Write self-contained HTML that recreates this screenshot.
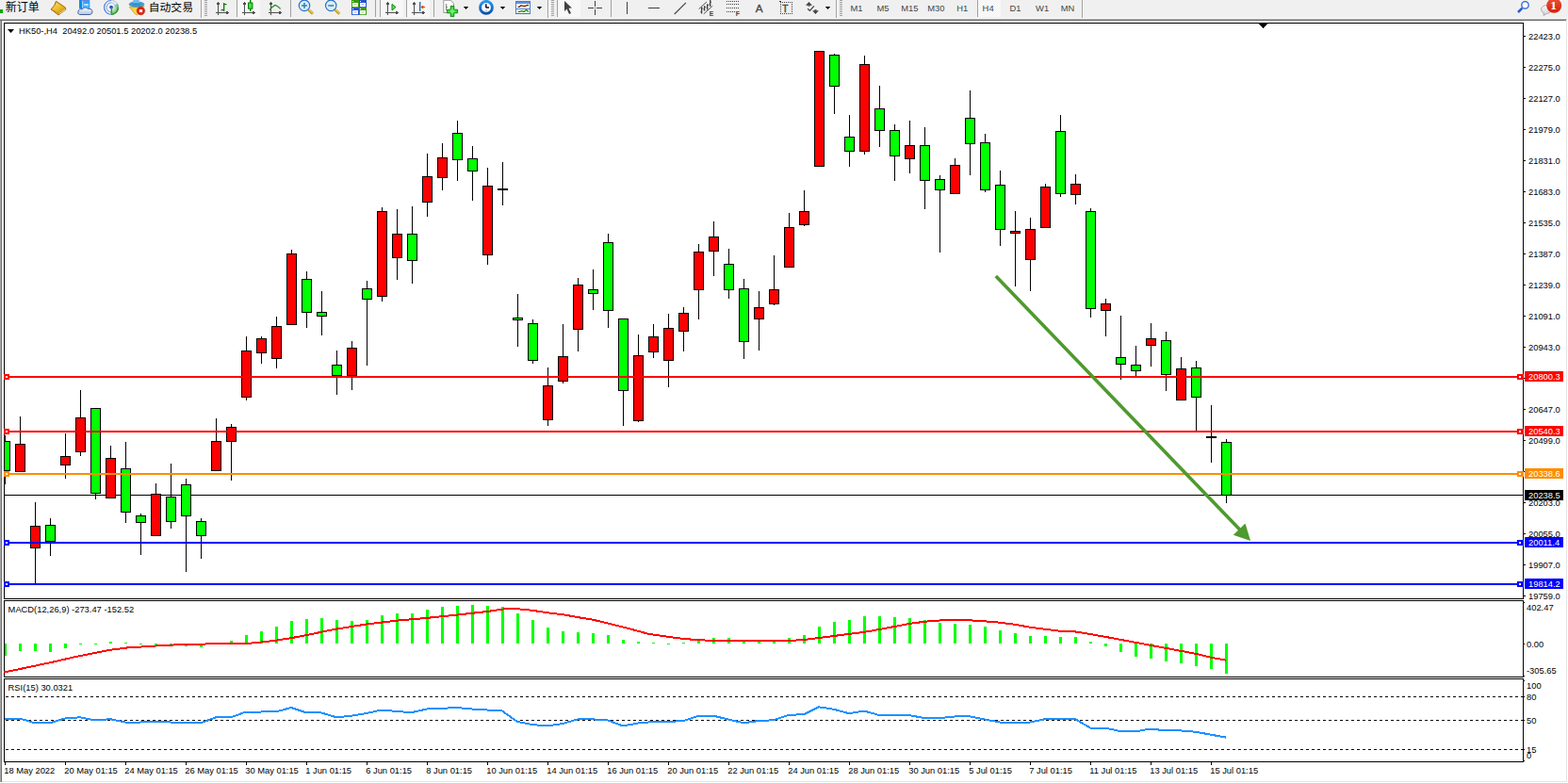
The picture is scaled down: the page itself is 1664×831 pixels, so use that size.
<!DOCTYPE html>
<html><head><meta charset="utf-8"><title>HK50-,H4</title>
<style>
html,body{margin:0;padding:0;background:#fff;}
body{width:1664px;height:831px;overflow:hidden;font-family:"Liberation Sans",sans-serif;}
svg{display:block;position:absolute;left:0;top:0;}
svg text{font-family:"Liberation Sans",sans-serif;}
</style></head><body>
<svg width="1664" height="831" viewBox="0 0 1664 831">
<defs><pattern id="chk" width="2" height="2" patternUnits="userSpaceOnUse"><rect width="2" height="2" fill="#f0f0f0"/><rect width="1" height="1" fill="#fff"/><rect x="1" y="1" width="1" height="1" fill="#fff"/></pattern><linearGradient id="gold" x1="0" y1="0" x2="1" y2="1"><stop offset="0" stop-color="#fbe36a"/><stop offset="0.6" stop-color="#e8b923"/><stop offset="1" stop-color="#c8901a"/></linearGradient><linearGradient id="clk" x1="0" y1="0" x2="0" y2="1"><stop offset="0" stop-color="#2b98f0"/><stop offset="1" stop-color="#0b50a8"/></linearGradient><radialGradient id="plus" cx="480" cy="12" r="6" gradientUnits="userSpaceOnUse"><stop offset="0" stop-color="#7dff7d"/><stop offset="1" stop-color="#18c018"/></radialGradient><linearGradient id="cloud" x1="0" y1="0" x2="0" y2="1"><stop offset="0" stop-color="#ffffff"/><stop offset="1" stop-color="#b4c2dc"/></linearGradient><linearGradient id="bub" x1="0" y1="0" x2="0" y2="1"><stop offset="0" stop-color="#fafafa"/><stop offset="1" stop-color="#d0d0dc"/></linearGradient><linearGradient id="yel" x1="0" y1="0" x2="1" y2="1"><stop offset="0" stop-color="#f2c62a"/><stop offset="1" stop-color="#fbe77a"/></linearGradient><radialGradient id="sgreen" cx="118" cy="7.8" r="8" gradientUnits="userSpaceOnUse"><stop offset="0" stop-color="#cfe8cf" stop-opacity="0.3"/><stop offset="0.6" stop-color="#8cc88c" stop-opacity="0.7"/><stop offset="1" stop-color="#3aa03a"/></radialGradient><linearGradient id="redg" x1="0" y1="0" x2="0" y2="1"><stop offset="0" stop-color="#e8553a"/><stop offset="1" stop-color="#d81e05"/></linearGradient></defs>
<g id="toolbar" shape-rendering="geometricPrecision">
<rect x="0" y="0" width="1664" height="19" fill="#f0f0f0"/><rect x="0" y="19" width="1664" height="1" fill="#f8f8f8"/><rect x="0" y="20" width="1663" height="1" fill="#b0b0b0"/><rect x="0" y="21" width="1662" height="1" fill="#696969"/><rect x="0" y="22" width="1" height="808" fill="#a8a8a8"/><rect x="1" y="22" width="1" height="808" fill="#707070"/><rect x="1662" y="22" width="1" height="808" fill="#e4e4e4"/><rect x="2" y="829" width="1661" height="1" fill="#e4e4e4"/><rect x="0" y="10" width="3" height="4" fill="#00a800"/><text x="5.65" y="11.5" font-size="12" fill="#000" style="font-family:&quot;Liberation Sans&quot;,&quot;Noto Sans CJK SC&quot;,sans-serif">新订单</text><text x="157.75" y="11.5" font-size="11.8" fill="#000" style="font-family:&quot;Liberation Sans&quot;,&quot;Noto Sans CJK SC&quot;,sans-serif">自动交易</text><polygon points="59.5,1.3 69.3,7.9 69.8,10.1 62.1,15.9 54.1,9.9 57.7,5.8" fill="#d9a21b" stroke="#a66a0a" stroke-width="1" stroke-linejoin="round"/><polygon points="60,2.4 68.5,8.2 62,13.2 55.3,9.4 58.4,5.9" fill="url(#gold)"/><path d="M63,14.7 L69.2,9.9" stroke="#e8dca8" stroke-width="1" fill="none"/><rect x="84" y="0" width="11.3" height="9" fill="#2aa6ff"/><rect x="84" y="0" width="3.4" height="9" fill="#0a8df0"/><rect x="87.4" y="0.8" width="0.8" height="8" fill="#e8f4ff"/><rect x="89.2" y="4.3" width="4.6" height="1.4" fill="#f4faff"/><rect x="89.2" y="6.8" width="4.6" height="0.7" fill="#bfe2ff"/><rect x="86" y="0" width="8" height="0.9" fill="#7b7bd0"/><path d="M84.5,15.5 H95.5 A3,3 0 0 0 97.7,11.4 A3,3 0 0 0 93.5,9.6 A3.6,3.6 0 0 0 87.2,10 A2.8,2.8 0 0 0 83,12.2 A2.3,2.3 0 0 0 84.5,15.5Z" fill="url(#cloud)" stroke="#3f5f9f" stroke-width="1"/><circle cx="118" cy="7.8" r="7.9" fill="#f4f6fb"/><path d="M118,7.8 L118,15.8 A8,8 0 0 0 124.9,3.8 Z" fill="url(#sgreen)"/><g fill="none"><circle cx="118" cy="7.8" r="7.4" stroke="#3b6ed6" stroke-opacity="0.6" stroke-width="1" stroke-dasharray="14 32.5" stroke-dashoffset="-14"/><path d="M118,0.4 A7.4,7.4 0 0 0 118,15.2" stroke="#3b6ed6" stroke-opacity="0.75" stroke-width="1.1"/><path d="M118,2.9 A4.9,4.9 0 0 0 118,12.7" stroke="#5b86de" stroke-opacity="0.7" stroke-width="1.1"/><path d="M118,2.9 A4.9,4.9 0 0 1 122.9,7.8" stroke="#8fb0d8" stroke-opacity="0.7" stroke-width="1.1"/><path d="M125.4,7.8 A7.4,7.4 0 0 0 118,0.4" stroke="#9bb8c8" stroke-opacity="0.7" stroke-width="1.1"/><path d="M118,15.3 A7.5,7.5 0 0 0 125.5,7.8" stroke="#2e9a2e" stroke-width="1.3"/></g><circle cx="118" cy="7.6" r="1.9" fill="#2255cc"/><rect x="117.6" y="8" width="1.5" height="7.8" fill="#1faa1f"/><polygon points="137.2,7.4 153,6.5 145.6,15.8 143.6,15.2" fill="url(#yel)" stroke="#d4a017" stroke-width="0.8" stroke-linejoin="round"/><ellipse cx="145" cy="4.6" rx="7.9" ry="2.7" fill="#3e9fdb" stroke="#2a86b8" stroke-width="0.7"/><ellipse cx="144.5" cy="2.1" rx="3.6" ry="2.8" fill="#6cbcee"/><ellipse cx="144.5" cy="4.4" rx="4.5" ry="1.2" fill="#2e8cc8"/><circle cx="149.4" cy="11.5" r="4.2" fill="#e8200a" stroke="#c01800" stroke-width="0.6"/><rect x="147.8" y="10.0" width="3.3" height="3.1" fill="#fff"/><rect x="213" y="0" width="1" height="19" fill="#a0a0a0"/><rect x="214" y="0" width="1" height="19" fill="#fff"/><rect x="217" y="0" width="3" height="1" fill="#a0a0a0"/><rect x="217" y="2" width="3" height="1" fill="#a0a0a0"/><rect x="217" y="4" width="3" height="1" fill="#a0a0a0"/><rect x="217" y="6" width="3" height="1" fill="#a0a0a0"/><rect x="217" y="8" width="3" height="1" fill="#a0a0a0"/><rect x="217" y="10" width="3" height="1" fill="#a0a0a0"/><rect x="217" y="12" width="3" height="1" fill="#a0a0a0"/><rect x="217" y="14" width="3" height="1" fill="#a0a0a0"/><rect x="217" y="16" width="3" height="1" fill="#a0a0a0"/><rect x="231" y="2" width="1" height="14" fill="#505050"/><rect x="230" y="3" width="3" height="2" fill="#505050"/><rect x="229" y="13" width="14" height="1" fill="#505050"/><rect x="240" y="12" width="2" height="3" fill="#505050"/><rect x="237" y="3" width="1.3" height="9" fill="#0a7a0a"/><rect x="237" y="4" width="3.5" height="1.2" fill="#0a7a0a"/><rect x="234.6" y="10" width="3" height="1.2" fill="#0a7a0a"/><rect x="251" y="0" width="1" height="18" fill="#a0a0a0"/><rect x="252" y="0" width="24" height="18" fill="url(#chk)"/><rect x="259" y="2" width="1" height="14" fill="#505050"/><rect x="258" y="3" width="3" height="2" fill="#505050"/><rect x="257" y="13" width="14" height="1" fill="#505050"/><rect x="268" y="12" width="2" height="3" fill="#505050"/><rect x="265" y="0" width="1.4" height="12" fill="#008000"/><rect x="263" y="2.5" width="5.4" height="7.2" fill="#008000"/><rect x="264" y="3.5" width="3.4" height="5.2" fill="#40e040"/><rect x="287" y="2" width="1" height="14" fill="#505050"/><rect x="286" y="3" width="3" height="2" fill="#505050"/><rect x="285" y="13" width="14" height="1" fill="#505050"/><rect x="296" y="12" width="2" height="3" fill="#505050"/><path d="M286,10.6 Q289,7 292,5.4 Q294.5,6.2 297.7,9.4" fill="none" stroke="#2e8b2e" stroke-width="1.3"/><rect x="308" y="0" width="1" height="18" fill="#a0a0a0"/><line x1="327" y1="10" x2="332" y2="14.7" stroke="#c9a227" stroke-width="3"/><line x1="327.3" y1="9.6" x2="332.3" y2="14.2" stroke="#f0d860" stroke-width="1"/><circle cx="323" cy="5.9" r="5.7" fill="#d8eefa" stroke="#2a6fc9" stroke-width="1.15"/><rect x="320" y="5.2" width="6" height="1.5" fill="#3a7ca8"/><rect x="322.25" y="2.9" width="1.5" height="6" fill="#3a7ca8"/><line x1="355.2" y1="10" x2="360.2" y2="14.7" stroke="#c9a227" stroke-width="3"/><line x1="355.5" y1="9.6" x2="360.5" y2="14.2" stroke="#f0d860" stroke-width="1"/><circle cx="351.2" cy="5.9" r="5.7" fill="#d8eefa" stroke="#2a6fc9" stroke-width="1.15"/><rect x="348.2" y="5.2" width="6" height="1.5" fill="#3a7ca8"/><rect x="373" y="0" width="8" height="8" fill="#3a9a10"/><rect x="374" y="3" width="6" height="4.2" fill="#fff"/><rect x="375.5" y="4.3" width="3" height="1" fill="#9ad080"/><rect x="374" y="1" width="1" height="1" fill="#fff"/><rect x="381" y="0" width="8" height="8" fill="#2255cc"/><rect x="382" y="3" width="6" height="4.2" fill="#fff"/><rect x="383.5" y="4.3" width="3" height="1" fill="#8aa8f0"/><rect x="382" y="1" width="1" height="1" fill="#fff"/><rect x="373" y="8" width="8" height="8" fill="#2255cc"/><rect x="374" y="11" width="6" height="4.2" fill="#fff"/><rect x="375.5" y="12.3" width="3" height="1" fill="#8aa8f0"/><rect x="374" y="9" width="1" height="1" fill="#fff"/><rect x="381" y="8" width="8" height="8" fill="#3a9a10"/><rect x="382" y="11" width="6" height="4.2" fill="#fff"/><rect x="383.5" y="12.3" width="3" height="1" fill="#9ad080"/><rect x="382" y="9" width="1" height="1" fill="#fff"/><rect x="398" y="0" width="1" height="18" fill="#a0a0a0"/><rect x="403" y="0" width="1" height="18" fill="#a0a0a0"/><rect x="404" y="0" width="24" height="18" fill="url(#chk)"/><rect x="411" y="2" width="1" height="14" fill="#505050"/><rect x="410" y="3" width="3" height="2" fill="#505050"/><rect x="409" y="13" width="14" height="1" fill="#505050"/><rect x="420" y="12" width="2" height="3" fill="#505050"/><polygon points="416,4.4 416,10.9 420,7.6" fill="#5ce05c" stroke="#0a8a0a" stroke-width="1"/><rect x="431" y="0" width="1" height="18" fill="#a0a0a0"/><rect x="432" y="0" width="24" height="18" fill="url(#chk)"/><rect x="439" y="2" width="1" height="14" fill="#505050"/><rect x="438" y="3" width="3" height="2" fill="#505050"/><rect x="437" y="13" width="14" height="1" fill="#505050"/><rect x="448" y="12" width="2" height="3" fill="#505050"/><rect x="445" y="2" width="1.4" height="10" fill="#1e6fb0"/><path d="M451,7.5 H447" stroke="#d9480f" stroke-width="1.2"/><polygon points="446.3,7.5 449.2,5.6 449.2,9.4" fill="#d9480f"/><rect x="460" y="0" width="1" height="18" fill="#a0a0a0"/><path d="M470.8,0.3 h7.5 l3.2,3.2 v10 h-10.7z" fill="#fdfdfd" stroke="#9a9a9a" stroke-width="1"/><path d="M473.5,4 v7 M473.5,7.5 h1.5" stroke="#666" stroke-width="0.8" fill="none"/><path d="M478.2,6.4 h3.6 v3.8 h3.8 v3.6 h-3.8 v3.8 h-3.6 v-3.8 h-3.8 v-3.6 h3.8z" fill="url(#plus)" stroke="#0a8a0a" stroke-width="0.9"/><polygon points="491.8,7 497.2,7 494.5,10.1" fill="#000"/><rect x="514.8" y="0" width="2.6" height="1.2" fill="#1a7ad8"/><circle cx="516" cy="7.9" r="6.4" fill="#fff" stroke="url(#clk)" stroke-width="2.9"/><g fill="#9a9a9a"><circle cx="516" cy="3.6" r="0.45"/><circle cx="520.3" cy="7.9" r="0.45"/><circle cx="511.7" cy="7.9" r="0.45"/><circle cx="513" cy="4.9" r="0.4"/><circle cx="519" cy="4.9" r="0.4"/><circle cx="513" cy="10.9" r="0.4"/><circle cx="519" cy="10.9" r="0.4"/></g><path d="M515.8,8 V4.3 M515.6,7.9 H519" stroke="#111" stroke-width="1.5" fill="none"/><rect x="515.2" y="10.6" width="1.6" height="0.8" fill="#4a90e2"/><polygon points="530.8,7 536.2,7 533.5,10.1" fill="#000"/><g shape-rendering="crispEdges"><rect x="547" y="1" width="16" height="14" fill="#4a7fcb"/><rect x="548" y="2" width="14" height="12" fill="#fff"/><rect x="548" y="2" width="14" height="2" fill="#5b93e0"/><rect x="548" y="9" width="14" height="1" fill="#4a7fcb"/><rect x="547" y="14" width="16" height="1" fill="#3f6fc0"/></g><polyline points="549.5,7.3 551.2,7.3 553,5.7 555,6.3 557,6.5 559,5.6 561,5.5" fill="none" stroke="#8b1a00" stroke-width="1.3"/><polyline points="550,12.6 552,12.2 554,11.7 556,12.5 558.5,10.6 561,12.6" fill="none" stroke="#0a8a0a" stroke-width="1.3"/><polygon points="569.8,7 575.2,7 572.5,10.1" fill="#000"/><rect x="581" y="0" width="1" height="19" fill="#a0a0a0"/><rect x="582" y="0" width="1" height="19" fill="#fff"/><rect x="585" y="0" width="3" height="1" fill="#a0a0a0"/><rect x="585" y="2" width="3" height="1" fill="#a0a0a0"/><rect x="585" y="4" width="3" height="1" fill="#a0a0a0"/><rect x="585" y="6" width="3" height="1" fill="#a0a0a0"/><rect x="585" y="8" width="3" height="1" fill="#a0a0a0"/><rect x="585" y="10" width="3" height="1" fill="#a0a0a0"/><rect x="585" y="12" width="3" height="1" fill="#a0a0a0"/><rect x="585" y="14" width="3" height="1" fill="#a0a0a0"/><rect x="585" y="16" width="3" height="1" fill="#a0a0a0"/><rect x="591" y="0" width="1" height="18" fill="#a0a0a0"/><rect x="592" y="0" width="24" height="18" fill="url(#chk)"/><polygon points="599,1 599,11.9 601.5,9.4 604,15 606,14 603.4,8.8 606.9,8.4" fill="#404040"/><rect x="631" y="1" width="1" height="6" fill="#404040"/><rect x="631" y="10" width="1" height="6" fill="#404040"/><rect x="624" y="8" width="6" height="1" fill="#404040"/><rect x="633" y="8" width="6" height="1" fill="#404040"/><rect x="631" y="8" width="1" height="1" fill="#404040"/><rect x="648" y="0" width="1" height="18" fill="#a0a0a0"/><rect x="665" y="2" width="1" height="13" fill="#404040"/><rect x="688" y="8" width="12" height="1" fill="#404040"/><line x1="715.7" y1="15" x2="727.9" y2="2.8" stroke="#404040" stroke-width="1.1"/><g stroke="#404040" fill="none"><path d="M741.6,9.6 L749.9,2 M746.8,14.8 L756.2,6.3" stroke-width="0.9"/><path d="M744.6,7.4 V14.4 M747.6,6.3 V11.5 M750.7,4.3 V10.5 M753.7,0 V6.9" stroke-width="1.3"/><path d="M743.4,12.8 h1.2 M744.6,8.8 h1.2 M746.4,9.8 h1.2 M747.6,7.4 h1.2 M749.5,8 h1.2 M750.7,5.5 h1.2 M752.5,4.6 h1.2 M753.7,2.2 h1.2" stroke-width="1"/></g><text x="752.7" y="16.9" font-size="6.8" font-weight="bold" fill="#404040">E</text><g shape-rendering="crispEdges"><rect x="771" y="1" width="1" height="1" fill="#404040"/><rect x="773" y="1" width="1" height="1" fill="#404040"/><rect x="775" y="1" width="1" height="1" fill="#404040"/><rect x="777" y="1" width="1" height="1" fill="#404040"/><rect x="779" y="1" width="1" height="1" fill="#404040"/><rect x="781" y="1" width="1" height="1" fill="#404040"/><rect x="783" y="1" width="1" height="1" fill="#404040"/><rect x="771" y="4" width="1" height="1" fill="#404040"/><rect x="773" y="4" width="1" height="1" fill="#404040"/><rect x="775" y="4" width="1" height="1" fill="#404040"/><rect x="777" y="4" width="1" height="1" fill="#404040"/><rect x="779" y="4" width="1" height="1" fill="#404040"/><rect x="781" y="4" width="1" height="1" fill="#404040"/><rect x="783" y="4" width="1" height="1" fill="#404040"/><rect x="771" y="8" width="1" height="1" fill="#404040"/><rect x="773" y="8" width="1" height="1" fill="#404040"/><rect x="775" y="8" width="1" height="1" fill="#404040"/><rect x="777" y="8" width="1" height="1" fill="#404040"/><rect x="779" y="8" width="1" height="1" fill="#404040"/><rect x="781" y="8" width="1" height="1" fill="#404040"/><rect x="783" y="8" width="1" height="1" fill="#404040"/><rect x="771" y="12" width="1" height="1" fill="#404040"/><rect x="773" y="12" width="1" height="1" fill="#404040"/><rect x="775" y="12" width="1" height="1" fill="#404040"/><rect x="777" y="12" width="1" height="1" fill="#404040"/><rect x="779" y="12" width="1" height="1" fill="#404040"/></g><text x="780.7" y="16.9" font-size="6.8" font-weight="bold" fill="#404040">F</text><text x="801.7" y="12.7" font-size="11.7" fill="#484848" stroke="#484848" stroke-width="0.35">A</text><g shape-rendering="crispEdges" fill="#404040"><rect x="828" y="2" width="1" height="1" fill="#404040"/><rect x="828" y="14" width="1" height="1" fill="#404040"/><rect x="830" y="2" width="1" height="1" fill="#404040"/><rect x="830" y="14" width="1" height="1" fill="#404040"/><rect x="832" y="2" width="1" height="1" fill="#404040"/><rect x="832" y="14" width="1" height="1" fill="#404040"/><rect x="834" y="2" width="1" height="1" fill="#404040"/><rect x="834" y="14" width="1" height="1" fill="#404040"/><rect x="836" y="2" width="1" height="1" fill="#404040"/><rect x="836" y="14" width="1" height="1" fill="#404040"/><rect x="838" y="2" width="1" height="1" fill="#404040"/><rect x="838" y="14" width="1" height="1" fill="#404040"/><rect x="840" y="2" width="1" height="1" fill="#404040"/><rect x="840" y="14" width="1" height="1" fill="#404040"/><rect x="828" y="2" width="1" height="1" fill="#404040"/><rect x="840" y="2" width="1" height="1" fill="#404040"/><rect x="828" y="4" width="1" height="1" fill="#404040"/><rect x="840" y="4" width="1" height="1" fill="#404040"/><rect x="828" y="6" width="1" height="1" fill="#404040"/><rect x="840" y="6" width="1" height="1" fill="#404040"/><rect x="828" y="8" width="1" height="1" fill="#404040"/><rect x="840" y="8" width="1" height="1" fill="#404040"/><rect x="828" y="10" width="1" height="1" fill="#404040"/><rect x="840" y="10" width="1" height="1" fill="#404040"/><rect x="828" y="12" width="1" height="1" fill="#404040"/><rect x="840" y="12" width="1" height="1" fill="#404040"/><rect x="828" y="14" width="1" height="1" fill="#404040"/><rect x="840" y="14" width="1" height="1" fill="#404040"/><rect x="827" y="1" width="2" height="1" fill="#404040"/></g><text x="830.2" y="12.6" font-size="10" fill="#484848" stroke="#484848" stroke-width="0.5">T</text><polygon points="858.4,1.9 862,5.7 855,5.7" fill="#404040"/><rect x="857.4" y="5.6" width="2.3" height="1" fill="#404040"/><path d="M857.1,9.3 L859.4,11.4 L863.9,6.4" fill="none" stroke="#404040" stroke-width="1.25"/><polygon points="862.1,11.2 868.9,11.2 865.4,15.1" fill="#404040"/><rect x="864.3" y="10.2" width="2.3" height="1.1" fill="#404040"/><polygon points="875.8,7 881.2,7 878.5,10.1" fill="#000"/><rect x="887" y="0" width="1" height="19" fill="#a0a0a0"/><rect x="888" y="0" width="1" height="19" fill="#fff"/><rect x="891" y="0" width="3" height="1" fill="#a0a0a0"/><rect x="891" y="2" width="3" height="1" fill="#a0a0a0"/><rect x="891" y="4" width="3" height="1" fill="#a0a0a0"/><rect x="891" y="6" width="3" height="1" fill="#a0a0a0"/><rect x="891" y="8" width="3" height="1" fill="#a0a0a0"/><rect x="891" y="10" width="3" height="1" fill="#a0a0a0"/><rect x="891" y="12" width="3" height="1" fill="#a0a0a0"/><rect x="891" y="14" width="3" height="1" fill="#a0a0a0"/><rect x="891" y="16" width="3" height="1" fill="#a0a0a0"/><rect x="1037" y="0" width="1" height="18" fill="#a0a0a0"/><rect x="1038" y="0" width="24" height="18" fill="url(#chk)"/><text transform="translate(909,12) scale(1,1.0)" font-size="9.4" fill="#454545" text-anchor="middle">M1</text><text transform="translate(937,12) scale(1,1.0)" font-size="9.4" fill="#454545" text-anchor="middle">M5</text><text transform="translate(965.4,12) scale(1,1.0)" font-size="9.4" fill="#454545" text-anchor="middle">M15</text><text transform="translate(993.3,12) scale(1,1.0)" font-size="9.4" fill="#454545" text-anchor="middle">M30</text><text transform="translate(1021.3,12) scale(1,1.0)" font-size="9.4" fill="#454545" text-anchor="middle">H1</text><text transform="translate(1048.6,12) scale(1,1.0)" font-size="9.4" fill="#454545" text-anchor="middle">H4</text><text transform="translate(1077.4,12) scale(1,1.0)" font-size="9.4" fill="#454545" text-anchor="middle">D1</text><text transform="translate(1106.1,12) scale(1,1.0)" font-size="9.4" fill="#454545" text-anchor="middle">W1</text><text transform="translate(1133,12) scale(1,1.0)" font-size="9.4" fill="#454545" text-anchor="middle">MN</text><rect x="1148" y="0" width="1" height="19" fill="#a0a0a0"/><rect x="1149" y="0" width="1" height="19" fill="#fff"/><line x1="1615.4" y1="8.6" x2="1611" y2="13" stroke="#2a5fd0" stroke-width="2.6"/><circle cx="1618.5" cy="5.4" r="3.7" fill="#fbfbff" stroke="#2a5fd0" stroke-width="1.3"/><path d="M1638,16.4 L1638.4,13.9 A5.4,4.4 0 1 1 1641.5,14.4 Z" fill="url(#bub)" stroke="#a4a4a8" stroke-width="0.9"/><circle cx="1649.2" cy="5.8" r="8" fill="url(#redg)"/><text x="1648.6" y="10.2" font-size="13.4" font-weight="bold" style="font-family:&quot;Liberation Serif&quot;,serif" fill="#fff" text-anchor="middle">1</text>
</g>
<g id="chart" shape-rendering="crispEdges">
<rect x="4" y="24" width="1613" height="1" fill="#000"/><rect x="4" y="24" width="1" height="612" fill="#000"/><rect x="1616" y="24" width="1" height="612" fill="#000"/><rect x="4" y="635" width="1613" height="1" fill="#000"/><rect x="4" y="637" width="1613" height="1" fill="#000"/><rect x="4" y="637" width="1" height="82" fill="#000"/><rect x="1616" y="637" width="1" height="82" fill="#000"/><rect x="4" y="718" width="1613" height="1" fill="#000"/><rect x="4" y="720" width="1613" height="1" fill="#000"/><rect x="4" y="720" width="1" height="89" fill="#000"/><rect x="1616" y="720" width="1" height="89" fill="#000"/><rect x="4" y="808" width="1613" height="1" fill="#000"/><rect x="1336" y="25" width="9" height="1" fill="#000"/><rect x="1337" y="26" width="7" height="1" fill="#000"/><rect x="1338" y="27" width="5" height="1" fill="#000"/><rect x="1339" y="28" width="3" height="1" fill="#000"/><rect x="1340" y="29" width="1" height="1" fill="#000"/><rect x="1617" y="38" width="2" height="1" fill="#000"/><rect x="1617" y="71" width="2" height="1" fill="#000"/><rect x="1617" y="104" width="2" height="1" fill="#000"/><rect x="1617" y="137" width="2" height="1" fill="#000"/><rect x="1617" y="170" width="2" height="1" fill="#000"/><rect x="1617" y="203" width="2" height="1" fill="#000"/><rect x="1617" y="236" width="2" height="1" fill="#000"/><rect x="1617" y="269" width="2" height="1" fill="#000"/><rect x="1617" y="302" width="2" height="1" fill="#000"/><rect x="1617" y="335" width="2" height="1" fill="#000"/><rect x="1617" y="368" width="2" height="1" fill="#000"/><rect x="1617" y="401" width="2" height="1" fill="#000"/><rect x="1617" y="434" width="2" height="1" fill="#000"/><rect x="1617" y="467" width="2" height="1" fill="#000"/><rect x="1617" y="500" width="2" height="1" fill="#000"/><rect x="1617" y="533" width="2" height="1" fill="#000"/><rect x="1617" y="566" width="2" height="1" fill="#000"/><rect x="1617" y="599" width="2" height="1" fill="#000"/><rect x="1617" y="632" width="2" height="1" fill="#000"/><rect x="1617" y="639" width="1" height="1" fill="#000"/><rect x="1617" y="683" width="1" height="1" fill="#000"/><rect x="1617" y="717" width="1" height="1" fill="#000"/><rect x="1617" y="722" width="1" height="1" fill="#000"/><rect x="1617" y="739" width="1" height="1" fill="#000"/><rect x="1617" y="764" width="1" height="1" fill="#000"/><rect x="1617" y="795" width="1" height="1" fill="#000"/><rect x="1617" y="807" width="1" height="1" fill="#000"/><rect x="5" y="809" width="1" height="3" fill="#000"/><rect x="69" y="809" width="1" height="3" fill="#000"/><rect x="133" y="809" width="1" height="3" fill="#000"/><rect x="197" y="809" width="1" height="3" fill="#000"/><rect x="261" y="809" width="1" height="3" fill="#000"/><rect x="325" y="809" width="1" height="3" fill="#000"/><rect x="389" y="809" width="1" height="3" fill="#000"/><rect x="453" y="809" width="1" height="3" fill="#000"/><rect x="517" y="809" width="1" height="3" fill="#000"/><rect x="581" y="809" width="1" height="3" fill="#000"/><rect x="645" y="809" width="1" height="3" fill="#000"/><rect x="709" y="809" width="1" height="3" fill="#000"/><rect x="773" y="809" width="1" height="3" fill="#000"/><rect x="837" y="809" width="1" height="3" fill="#000"/><rect x="901" y="809" width="1" height="3" fill="#000"/><rect x="965" y="809" width="1" height="3" fill="#000"/><rect x="1029" y="809" width="1" height="3" fill="#000"/><rect x="1093" y="809" width="1" height="3" fill="#000"/><rect x="1157" y="809" width="1" height="3" fill="#000"/><rect x="1221" y="809" width="1" height="3" fill="#000"/><rect x="1285" y="809" width="1" height="3" fill="#000"/><rect x="5" y="525" width="1611" height="1" fill="#000"/><rect x="5" y="462" width="1" height="52" fill="#000"/><rect x="5" y="468" width="6" height="32" fill="#000"/><rect x="5" y="469" width="5" height="30" fill="#00ff00"/><rect x="21" y="442" width="1" height="59" fill="#000"/><rect x="16" y="471" width="11" height="30" fill="#000"/><rect x="17" y="472" width="9" height="28" fill="#ff0000"/><rect x="37" y="533" width="1" height="86" fill="#000"/><rect x="32" y="558" width="11" height="24" fill="#000"/><rect x="33" y="559" width="9" height="22" fill="#ff0000"/><rect x="53" y="550" width="1" height="40" fill="#000"/><rect x="48" y="557" width="11" height="18" fill="#000"/><rect x="49" y="558" width="9" height="16" fill="#00ff00"/><rect x="69" y="460" width="1" height="48" fill="#000"/><rect x="64" y="484" width="11" height="10" fill="#000"/><rect x="65" y="485" width="9" height="8" fill="#ff0000"/><rect x="85" y="414" width="1" height="70" fill="#000"/><rect x="80" y="443" width="11" height="37" fill="#000"/><rect x="81" y="444" width="9" height="35" fill="#ff0000"/><rect x="101" y="433" width="1" height="97" fill="#000"/><rect x="96" y="433" width="11" height="91" fill="#000"/><rect x="97" y="434" width="9" height="89" fill="#00ff00"/><rect x="117" y="473" width="1" height="56" fill="#000"/><rect x="112" y="486" width="11" height="43" fill="#000"/><rect x="113" y="487" width="9" height="41" fill="#ff0000"/><rect x="133" y="469" width="1" height="86" fill="#000"/><rect x="128" y="497" width="11" height="47" fill="#000"/><rect x="129" y="498" width="9" height="45" fill="#00ff00"/><rect x="149" y="545" width="1" height="44" fill="#000"/><rect x="144" y="547" width="11" height="8" fill="#000"/><rect x="145" y="548" width="9" height="6" fill="#00ff00"/><rect x="165" y="513" width="1" height="56" fill="#000"/><rect x="160" y="524" width="11" height="45" fill="#000"/><rect x="161" y="525" width="9" height="43" fill="#ff0000"/><rect x="181" y="492" width="1" height="69" fill="#000"/><rect x="176" y="527" width="11" height="27" fill="#000"/><rect x="177" y="528" width="9" height="25" fill="#00ff00"/><rect x="197" y="508" width="1" height="99" fill="#000"/><rect x="192" y="514" width="11" height="34" fill="#000"/><rect x="193" y="515" width="9" height="32" fill="#00ff00"/><rect x="213" y="550" width="1" height="43" fill="#000"/><rect x="208" y="553" width="11" height="16" fill="#000"/><rect x="209" y="554" width="9" height="14" fill="#00ff00"/><rect x="229" y="444" width="1" height="56" fill="#000"/><rect x="224" y="468" width="11" height="32" fill="#000"/><rect x="225" y="469" width="9" height="30" fill="#ff0000"/><rect x="245" y="450" width="1" height="60" fill="#000"/><rect x="240" y="453" width="11" height="16" fill="#000"/><rect x="241" y="454" width="9" height="14" fill="#ff0000"/><rect x="261" y="357" width="1" height="68" fill="#000"/><rect x="256" y="372" width="11" height="50" fill="#000"/><rect x="257" y="373" width="9" height="48" fill="#ff0000"/><rect x="277" y="357" width="1" height="29" fill="#000"/><rect x="272" y="359" width="11" height="16" fill="#000"/><rect x="273" y="360" width="9" height="14" fill="#ff0000"/><rect x="293" y="336" width="1" height="55" fill="#000"/><rect x="288" y="346" width="11" height="35" fill="#000"/><rect x="289" y="347" width="9" height="33" fill="#ff0000"/><rect x="309" y="265" width="1" height="80" fill="#000"/><rect x="304" y="269" width="11" height="76" fill="#000"/><rect x="305" y="270" width="9" height="74" fill="#ff0000"/><rect x="325" y="288" width="1" height="60" fill="#000"/><rect x="320" y="296" width="11" height="36" fill="#000"/><rect x="321" y="297" width="9" height="34" fill="#00ff00"/><rect x="341" y="309" width="1" height="47" fill="#000"/><rect x="336" y="331" width="11" height="5" fill="#000"/><rect x="337" y="332" width="9" height="3" fill="#00ff00"/><rect x="357" y="372" width="1" height="47" fill="#000"/><rect x="352" y="387" width="11" height="12" fill="#000"/><rect x="353" y="388" width="9" height="10" fill="#00ff00"/><rect x="373" y="362" width="1" height="52" fill="#000"/><rect x="368" y="369" width="11" height="30" fill="#000"/><rect x="369" y="370" width="9" height="28" fill="#ff0000"/><rect x="389" y="298" width="1" height="90" fill="#000"/><rect x="384" y="306" width="11" height="12" fill="#000"/><rect x="385" y="307" width="9" height="10" fill="#00ff00"/><rect x="405" y="220" width="1" height="100" fill="#000"/><rect x="400" y="224" width="11" height="91" fill="#000"/><rect x="401" y="225" width="9" height="89" fill="#ff0000"/><rect x="421" y="222" width="1" height="75" fill="#000"/><rect x="416" y="248" width="11" height="26" fill="#000"/><rect x="417" y="249" width="9" height="24" fill="#ff0000"/><rect x="437" y="219" width="1" height="82" fill="#000"/><rect x="432" y="248" width="11" height="29" fill="#000"/><rect x="433" y="249" width="9" height="27" fill="#00ff00"/><rect x="453" y="163" width="1" height="67" fill="#000"/><rect x="448" y="187" width="11" height="28" fill="#000"/><rect x="449" y="188" width="9" height="26" fill="#ff0000"/><rect x="469" y="152" width="1" height="50" fill="#000"/><rect x="464" y="167" width="11" height="22" fill="#000"/><rect x="465" y="168" width="9" height="20" fill="#ff0000"/><rect x="485" y="128" width="1" height="64" fill="#000"/><rect x="480" y="141" width="11" height="29" fill="#000"/><rect x="481" y="142" width="9" height="27" fill="#00ff00"/><rect x="501" y="155" width="1" height="58" fill="#000"/><rect x="496" y="168" width="11" height="14" fill="#000"/><rect x="497" y="169" width="9" height="12" fill="#00ff00"/><rect x="517" y="178" width="1" height="103" fill="#000"/><rect x="512" y="197" width="11" height="74" fill="#000"/><rect x="513" y="198" width="9" height="72" fill="#ff0000"/><rect x="533" y="172" width="1" height="46" fill="#000"/><rect x="528" y="200" width="11" height="2" fill="#000"/><rect x="549" y="312" width="1" height="56" fill="#000"/><rect x="544" y="337" width="11" height="3" fill="#000"/><rect x="545" y="338" width="9" height="1" fill="#00ff00"/><rect x="565" y="339" width="1" height="47" fill="#000"/><rect x="560" y="343" width="11" height="40" fill="#000"/><rect x="561" y="344" width="9" height="38" fill="#00ff00"/><rect x="581" y="390" width="1" height="62" fill="#000"/><rect x="576" y="409" width="11" height="37" fill="#000"/><rect x="577" y="410" width="9" height="35" fill="#ff0000"/><rect x="597" y="344" width="1" height="63" fill="#000"/><rect x="592" y="378" width="11" height="27" fill="#000"/><rect x="593" y="379" width="9" height="25" fill="#ff0000"/><rect x="613" y="295" width="1" height="78" fill="#000"/><rect x="608" y="302" width="11" height="48" fill="#000"/><rect x="609" y="303" width="9" height="46" fill="#ff0000"/><rect x="629" y="286" width="1" height="43" fill="#000"/><rect x="624" y="307" width="11" height="5" fill="#000"/><rect x="625" y="308" width="9" height="3" fill="#00ff00"/><rect x="645" y="248" width="1" height="100" fill="#000"/><rect x="640" y="257" width="11" height="73" fill="#000"/><rect x="641" y="258" width="9" height="71" fill="#00ff00"/><rect x="661" y="338" width="1" height="114" fill="#000"/><rect x="656" y="338" width="11" height="77" fill="#000"/><rect x="657" y="339" width="9" height="75" fill="#00ff00"/><rect x="677" y="355" width="1" height="93" fill="#000"/><rect x="672" y="377" width="11" height="70" fill="#000"/><rect x="673" y="378" width="9" height="68" fill="#ff0000"/><rect x="693" y="344" width="1" height="36" fill="#000"/><rect x="688" y="357" width="11" height="17" fill="#000"/><rect x="689" y="358" width="9" height="15" fill="#ff0000"/><rect x="709" y="333" width="1" height="78" fill="#000"/><rect x="704" y="348" width="11" height="35" fill="#000"/><rect x="705" y="349" width="9" height="33" fill="#ff0000"/><rect x="725" y="326" width="1" height="47" fill="#000"/><rect x="720" y="332" width="11" height="20" fill="#000"/><rect x="721" y="333" width="9" height="18" fill="#ff0000"/><rect x="741" y="259" width="1" height="80" fill="#000"/><rect x="736" y="267" width="11" height="41" fill="#000"/><rect x="737" y="268" width="9" height="39" fill="#ff0000"/><rect x="757" y="235" width="1" height="58" fill="#000"/><rect x="752" y="251" width="11" height="16" fill="#000"/><rect x="753" y="252" width="9" height="14" fill="#ff0000"/><rect x="773" y="264" width="1" height="53" fill="#000"/><rect x="768" y="280" width="11" height="28" fill="#000"/><rect x="769" y="281" width="9" height="26" fill="#00ff00"/><rect x="789" y="296" width="1" height="85" fill="#000"/><rect x="784" y="306" width="11" height="57" fill="#000"/><rect x="785" y="307" width="9" height="55" fill="#00ff00"/><rect x="805" y="309" width="1" height="63" fill="#000"/><rect x="800" y="326" width="11" height="13" fill="#000"/><rect x="801" y="327" width="9" height="11" fill="#ff0000"/><rect x="821" y="271" width="1" height="53" fill="#000"/><rect x="816" y="307" width="11" height="16" fill="#000"/><rect x="817" y="308" width="9" height="14" fill="#ff0000"/><rect x="837" y="226" width="1" height="58" fill="#000"/><rect x="832" y="241" width="11" height="43" fill="#000"/><rect x="833" y="242" width="9" height="41" fill="#ff0000"/><rect x="853" y="202" width="1" height="38" fill="#000"/><rect x="848" y="224" width="11" height="15" fill="#000"/><rect x="849" y="225" width="9" height="13" fill="#ff0000"/><rect x="869" y="54" width="1" height="123" fill="#000"/><rect x="864" y="54" width="11" height="123" fill="#000"/><rect x="865" y="55" width="9" height="121" fill="#ff0000"/><rect x="885" y="57" width="1" height="64" fill="#000"/><rect x="880" y="58" width="11" height="34" fill="#000"/><rect x="881" y="59" width="9" height="32" fill="#00ff00"/><rect x="901" y="122" width="1" height="55" fill="#000"/><rect x="896" y="145" width="11" height="16" fill="#000"/><rect x="897" y="146" width="9" height="14" fill="#00ff00"/><rect x="917" y="59" width="1" height="105" fill="#000"/><rect x="912" y="68" width="11" height="93" fill="#000"/><rect x="913" y="69" width="9" height="91" fill="#ff0000"/><rect x="933" y="91" width="1" height="65" fill="#000"/><rect x="928" y="115" width="11" height="24" fill="#000"/><rect x="929" y="116" width="9" height="22" fill="#00ff00"/><rect x="949" y="132" width="1" height="60" fill="#000"/><rect x="944" y="138" width="11" height="28" fill="#000"/><rect x="945" y="139" width="9" height="26" fill="#00ff00"/><rect x="965" y="128" width="1" height="56" fill="#000"/><rect x="960" y="154" width="11" height="15" fill="#000"/><rect x="961" y="155" width="9" height="13" fill="#ff0000"/><rect x="981" y="135" width="1" height="87" fill="#000"/><rect x="976" y="154" width="11" height="38" fill="#000"/><rect x="977" y="155" width="9" height="36" fill="#00ff00"/><rect x="997" y="186" width="1" height="82" fill="#000"/><rect x="992" y="190" width="11" height="12" fill="#000"/><rect x="993" y="191" width="9" height="10" fill="#00ff00"/><rect x="1013" y="168" width="1" height="38" fill="#000"/><rect x="1008" y="175" width="11" height="31" fill="#000"/><rect x="1009" y="176" width="9" height="29" fill="#ff0000"/><rect x="1029" y="96" width="1" height="90" fill="#000"/><rect x="1024" y="125" width="11" height="28" fill="#000"/><rect x="1025" y="126" width="9" height="26" fill="#00ff00"/><rect x="1045" y="142" width="1" height="62" fill="#000"/><rect x="1040" y="151" width="11" height="51" fill="#000"/><rect x="1041" y="152" width="9" height="49" fill="#00ff00"/><rect x="1061" y="181" width="1" height="80" fill="#000"/><rect x="1056" y="196" width="11" height="48" fill="#000"/><rect x="1057" y="197" width="9" height="46" fill="#00ff00"/><rect x="1077" y="224" width="1" height="80" fill="#000"/><rect x="1072" y="245" width="11" height="3" fill="#000"/><rect x="1073" y="246" width="9" height="1" fill="#ff0000"/><rect x="1093" y="231" width="1" height="78" fill="#000"/><rect x="1088" y="243" width="11" height="33" fill="#000"/><rect x="1089" y="244" width="9" height="31" fill="#ff0000"/><rect x="1109" y="195" width="1" height="47" fill="#000"/><rect x="1104" y="198" width="11" height="44" fill="#000"/><rect x="1105" y="199" width="9" height="42" fill="#ff0000"/><rect x="1125" y="122" width="1" height="87" fill="#000"/><rect x="1120" y="139" width="11" height="67" fill="#000"/><rect x="1121" y="140" width="9" height="65" fill="#00ff00"/><rect x="1141" y="185" width="1" height="32" fill="#000"/><rect x="1136" y="195" width="11" height="12" fill="#000"/><rect x="1137" y="196" width="9" height="10" fill="#ff0000"/><rect x="1157" y="221" width="1" height="116" fill="#000"/><rect x="1152" y="224" width="11" height="104" fill="#000"/><rect x="1153" y="225" width="9" height="102" fill="#00ff00"/><rect x="1173" y="317" width="1" height="40" fill="#000"/><rect x="1168" y="322" width="11" height="8" fill="#000"/><rect x="1169" y="323" width="9" height="6" fill="#ff0000"/><rect x="1189" y="335" width="1" height="68" fill="#000"/><rect x="1184" y="379" width="11" height="8" fill="#000"/><rect x="1185" y="380" width="9" height="6" fill="#00ff00"/><rect x="1205" y="367" width="1" height="32" fill="#000"/><rect x="1200" y="387" width="11" height="7" fill="#000"/><rect x="1201" y="388" width="9" height="5" fill="#00ff00"/><rect x="1221" y="343" width="1" height="46" fill="#000"/><rect x="1216" y="359" width="11" height="8" fill="#000"/><rect x="1217" y="360" width="9" height="6" fill="#ff0000"/><rect x="1237" y="352" width="1" height="63" fill="#000"/><rect x="1232" y="361" width="11" height="37" fill="#000"/><rect x="1233" y="362" width="9" height="35" fill="#00ff00"/><rect x="1253" y="379" width="1" height="46" fill="#000"/><rect x="1248" y="391" width="11" height="34" fill="#000"/><rect x="1249" y="392" width="9" height="32" fill="#ff0000"/><rect x="1269" y="383" width="1" height="74" fill="#000"/><rect x="1264" y="390" width="11" height="32" fill="#000"/><rect x="1265" y="391" width="9" height="30" fill="#00ff00"/><rect x="1285" y="430" width="1" height="61" fill="#000"/><rect x="1280" y="463" width="11" height="2" fill="#000"/><rect x="1301" y="466" width="1" height="68" fill="#000"/><rect x="1296" y="469" width="11" height="57" fill="#000"/><rect x="1297" y="470" width="9" height="55" fill="#00ff00"/><rect x="5" y="399" width="1611" height="2" fill="#ff0000"/><rect x="4" y="397" width="6" height="6" fill="#ff0000"/><rect x="6" y="399" width="2" height="2" fill="#fff"/><rect x="1610" y="397" width="7" height="6" fill="#ff0000"/><rect x="1612" y="399" width="2" height="2" fill="#fff"/><rect x="5" y="457" width="1611" height="2" fill="#ff0000"/><rect x="4" y="455" width="6" height="6" fill="#ff0000"/><rect x="6" y="457" width="2" height="2" fill="#fff"/><rect x="1610" y="455" width="7" height="6" fill="#ff0000"/><rect x="1612" y="457" width="2" height="2" fill="#fff"/><rect x="5" y="502" width="1611" height="2" fill="#ff8c00"/><rect x="4" y="500" width="6" height="6" fill="#ff8c00"/><rect x="6" y="502" width="2" height="2" fill="#fff"/><rect x="1610" y="500" width="7" height="6" fill="#ff8c00"/><rect x="1612" y="502" width="2" height="2" fill="#fff"/><rect x="5" y="575" width="1611" height="2" fill="#0000ff"/><rect x="4" y="573" width="6" height="6" fill="#0000ff"/><rect x="6" y="575" width="2" height="2" fill="#fff"/><rect x="1610" y="573" width="7" height="6" fill="#0000ff"/><rect x="1612" y="575" width="2" height="2" fill="#fff"/><rect x="5" y="619" width="1611" height="2" fill="#0000ff"/><rect x="4" y="617" width="6" height="6" fill="#0000ff"/><rect x="6" y="619" width="2" height="2" fill="#fff"/><rect x="1610" y="617" width="7" height="6" fill="#0000ff"/><rect x="1612" y="619" width="2" height="2" fill="#fff"/><rect x="5" y="683" width="2" height="13" fill="#00ff00"/><rect x="20" y="683" width="3" height="8" fill="#00ff00"/><rect x="36" y="683" width="3" height="8" fill="#00ff00"/><rect x="52" y="683" width="3" height="9" fill="#00ff00"/><rect x="68" y="683" width="3" height="5" fill="#00ff00"/><rect x="84" y="683" width="3" height="1" fill="#00ff00"/><rect x="100" y="683" width="3" height="1" fill="#00ff00"/><rect x="116" y="681" width="3" height="2" fill="#00ff00"/><rect x="132" y="682" width="3" height="1" fill="#00ff00"/><rect x="148" y="683" width="3" height="1" fill="#00ff00"/><rect x="164" y="683" width="3" height="2" fill="#00ff00"/><rect x="180" y="683" width="3" height="1" fill="#00ff00"/><rect x="196" y="683" width="3" height="3" fill="#00ff00"/><rect x="212" y="683" width="3" height="4" fill="#00ff00"/><rect x="244" y="680" width="3" height="3" fill="#00ff00"/><rect x="260" y="674" width="3" height="9" fill="#00ff00"/><rect x="276" y="670" width="3" height="13" fill="#00ff00"/><rect x="292" y="665" width="3" height="18" fill="#00ff00"/><rect x="308" y="659" width="3" height="24" fill="#00ff00"/><rect x="324" y="657" width="3" height="26" fill="#00ff00"/><rect x="340" y="656" width="3" height="27" fill="#00ff00"/><rect x="356" y="658" width="3" height="25" fill="#00ff00"/><rect x="372" y="659" width="3" height="24" fill="#00ff00"/><rect x="388" y="658" width="3" height="25" fill="#00ff00"/><rect x="404" y="653" width="3" height="30" fill="#00ff00"/><rect x="420" y="651" width="3" height="32" fill="#00ff00"/><rect x="436" y="651" width="3" height="32" fill="#00ff00"/><rect x="452" y="647" width="3" height="36" fill="#00ff00"/><rect x="468" y="644" width="3" height="39" fill="#00ff00"/><rect x="484" y="643" width="3" height="40" fill="#00ff00"/><rect x="500" y="642" width="3" height="41" fill="#00ff00"/><rect x="516" y="643" width="3" height="40" fill="#00ff00"/><rect x="532" y="644" width="3" height="39" fill="#00ff00"/><rect x="548" y="651" width="3" height="32" fill="#00ff00"/><rect x="564" y="658" width="3" height="25" fill="#00ff00"/><rect x="580" y="666" width="3" height="17" fill="#00ff00"/><rect x="596" y="670" width="3" height="13" fill="#00ff00"/><rect x="612" y="671" width="3" height="12" fill="#00ff00"/><rect x="628" y="672" width="3" height="11" fill="#00ff00"/><rect x="644" y="674" width="3" height="9" fill="#00ff00"/><rect x="660" y="679" width="3" height="4" fill="#00ff00"/><rect x="676" y="681" width="3" height="2" fill="#00ff00"/><rect x="692" y="682" width="3" height="1" fill="#00ff00"/><rect x="708" y="683" width="3" height="1" fill="#00ff00"/><rect x="724" y="682" width="3" height="1" fill="#00ff00"/><rect x="740" y="679" width="3" height="4" fill="#00ff00"/><rect x="756" y="677" width="3" height="6" fill="#00ff00"/><rect x="772" y="677" width="3" height="6" fill="#00ff00"/><rect x="788" y="679" width="3" height="4" fill="#00ff00"/><rect x="804" y="679" width="3" height="4" fill="#00ff00"/><rect x="820" y="680" width="3" height="3" fill="#00ff00"/><rect x="836" y="677" width="3" height="6" fill="#00ff00"/><rect x="852" y="674" width="3" height="9" fill="#00ff00"/><rect x="868" y="665" width="3" height="18" fill="#00ff00"/><rect x="884" y="660" width="3" height="23" fill="#00ff00"/><rect x="900" y="658" width="3" height="25" fill="#00ff00"/><rect x="916" y="654" width="3" height="29" fill="#00ff00"/><rect x="932" y="654" width="3" height="29" fill="#00ff00"/><rect x="948" y="655" width="3" height="28" fill="#00ff00"/><rect x="964" y="656" width="3" height="27" fill="#00ff00"/><rect x="980" y="658" width="3" height="25" fill="#00ff00"/><rect x="996" y="661" width="3" height="22" fill="#00ff00"/><rect x="1012" y="662" width="3" height="21" fill="#00ff00"/><rect x="1028" y="663" width="3" height="20" fill="#00ff00"/><rect x="1044" y="665" width="3" height="18" fill="#00ff00"/><rect x="1060" y="669" width="3" height="14" fill="#00ff00"/><rect x="1076" y="672" width="3" height="11" fill="#00ff00"/><rect x="1092" y="675" width="3" height="8" fill="#00ff00"/><rect x="1108" y="675" width="3" height="8" fill="#00ff00"/><rect x="1124" y="676" width="3" height="7" fill="#00ff00"/><rect x="1140" y="676" width="3" height="7" fill="#00ff00"/><rect x="1156" y="681" width="3" height="2" fill="#00ff00"/><rect x="1172" y="683" width="3" height="3" fill="#00ff00"/><rect x="1188" y="683" width="3" height="9" fill="#00ff00"/><rect x="1204" y="683" width="3" height="14" fill="#00ff00"/><rect x="1220" y="683" width="3" height="16" fill="#00ff00"/><rect x="1236" y="683" width="3" height="19" fill="#00ff00"/><rect x="1252" y="683" width="3" height="21" fill="#00ff00"/><rect x="1268" y="683" width="3" height="24" fill="#00ff00"/><rect x="1284" y="683" width="3" height="27" fill="#00ff00"/><rect x="1300" y="683" width="3" height="32" fill="#00ff00"/><path d="M6 739.5H1616" stroke="#000" stroke-width="1" stroke-dasharray="3 3" fill="none"/><path d="M6 764.5H1616" stroke="#000" stroke-width="1" stroke-dasharray="3 3" fill="none"/><path d="M6 795.5H1616" stroke="#000" stroke-width="1" stroke-dasharray="3 3" fill="none"/>
</g>
<g id="series" shape-rendering="crispEdges">
<polyline points="4.5,713.5 53.8,703.1 82.8,696.5 116.0,689.9 134.5,687.5 165.6,685.5 198.7,683.7 260.8,683.1 277.4,681.5 294.0,679.5 310.5,676.9 327.0,673.8 343.6,670.2 357.5,667.5 389.5,662.4 421.6,658.6 453.7,655.8 484.8,652.6 517.9,648.9 534.4,646.4 548.9,646.2 565.5,647.9 582.0,650.4 598.6,652.4 613.1,655.1 629.6,657.8 646.2,661.8 662.8,665.9 688.0,672.7 708.7,675.8 725.3,677.9 741.8,679.3 772.9,680.4 832.9,680.4 853.6,678.9 868.0,677.1 884.6,675.0 901.2,672.9 917.8,670.7 933.3,668.0 949.8,664.9 965.4,661.8 981.9,659.7 998.5,658.4 1027.5,658.2 1044.4,659.3 1061.0,660.7 1077.5,662.8 1094.0,665.9 1110.7,668.0 1127.2,670.0 1139.6,670.2 1156.2,672.9 1172.8,675.8 1189.3,678.9 1205.9,682.0 1222.4,685.1 1239.0,688.2 1253.5,690.9 1270.0,694.0 1285.6,697.8 1301.0,700.7" fill="none" stroke="#ff0000" stroke-width="2" stroke-linejoin="round"/><polyline points="5,762.5 21,762.5 37,767.3 53,767.3 69,762.5 85,761.3 101,764.5 117,763.2 133,766.5 149,766.5 165,765.5 181,766.5 197,767.3 213,767.3 229,761.3 245,761.3 261,755.5 277,755.5 293,755.3 309,751.0 325,756.3 341,756.5 357,761.3 373,759.7 389,757.0 405,753.5 421,755.0 437,756.1 453,752.5 469,751.8 485,751.0 501,752.5 517,753.5 533,754.5 549,766.0 565,769.0 581,770.5 597,768.0 613,763.4 629,763.4 645,764.4 661,770.5 677,767.5 693,766.1 709,765.7 725,765.3 741,759.9 757,759.7 773,763.5 789,767.3 805,765.0 821,764.3 837,758.8 853,758.2 869,750.3 885,752.8 901,757.2 917,754.5 933,759.0 949,759.2 965,759.2 981,762.0 997,762.1 1013,760.5 1029,760.3 1045,763.5 1061,766.5 1077,766.5 1093,766.5 1109,763.2 1125,763.2 1141,763.2 1157,772.5 1173,772.5 1189,776.2 1205,776.4 1221,773.5 1237,775.4 1253,775.4 1269,776.8 1285,779.7 1301,782.6" fill="none" stroke="#1e90ff" stroke-width="2" stroke-linejoin="round"/>
</g>
<g id="labels" shape-rendering="crispEdges">
<rect x="1618" y="394" width="41" height="11" fill="#ff0000"/><rect x="1618" y="452" width="41" height="11" fill="#ff0000"/><rect x="1618" y="497" width="41" height="11" fill="#ff8c00"/><rect x="1618" y="570" width="41" height="11" fill="#0000ff"/><rect x="1618" y="614" width="41" height="11" fill="#0000ff"/><rect x="1618" y="520" width="41" height="11" fill="#000"/>
</g>
<g id="arrow">
<line x1="1056.8" y1="293.0" x2="1316.6" y2="563.1" stroke="#4e9a2e" stroke-width="3.6"/><polygon points="1327.1,574.1 1308.8,567.8 1321.5,555.6" fill="#4e9a2e"/>
<polygon points="8,31 15,31 11.5,35" fill="#000"/>
</g>
<g id="texts">
<text transform="translate(1622,42) scale(1,1.0)" fill="#000" font-size="9.35">22423.0</text><text transform="translate(1622,75) scale(1,1.0)" fill="#000" font-size="9.35">22275.0</text><text transform="translate(1622,108) scale(1,1.0)" fill="#000" font-size="9.35">22127.0</text><text transform="translate(1622,141) scale(1,1.0)" fill="#000" font-size="9.35">21979.0</text><text transform="translate(1622,174) scale(1,1.0)" fill="#000" font-size="9.35">21831.0</text><text transform="translate(1622,207) scale(1,1.0)" fill="#000" font-size="9.35">21683.0</text><text transform="translate(1622,240) scale(1,1.0)" fill="#000" font-size="9.35">21535.0</text><text transform="translate(1622,273) scale(1,1.0)" fill="#000" font-size="9.35">21387.0</text><text transform="translate(1622,306) scale(1,1.0)" fill="#000" font-size="9.35">21239.0</text><text transform="translate(1622,339) scale(1,1.0)" fill="#000" font-size="9.35">21091.0</text><text transform="translate(1622,372) scale(1,1.0)" fill="#000" font-size="9.35">20943.0</text><text transform="translate(1622,438) scale(1,1.0)" fill="#000" font-size="9.35">20647.0</text><text transform="translate(1622,471) scale(1,1.0)" fill="#000" font-size="9.35">20499.0</text><text transform="translate(1622,537) scale(1,1.0)" fill="#000" font-size="9.35">20203.0</text><text transform="translate(1622,570) scale(1,1.0)" fill="#000" font-size="9.35">20055.0</text><text transform="translate(1622,603) scale(1,1.0)" fill="#000" font-size="9.35">19907.0</text><text transform="translate(1622,636) scale(1,1.0)" fill="#000" font-size="9.35">19759.0</text><text transform="translate(1622,403) scale(1,1.0)" fill="#fff" font-size="9.35">20800.3</text><text transform="translate(1622,461) scale(1,1.0)" fill="#fff" font-size="9.35">20540.3</text><text transform="translate(1622,506) scale(1,1.0)" fill="#fff" font-size="9.35">20338.6</text><text transform="translate(1622,579) scale(1,1.0)" fill="#fff" font-size="9.35">20011.4</text><text transform="translate(1622,623) scale(1,1.0)" fill="#fff" font-size="9.35">19814.2</text><text transform="translate(1622,529) scale(1,1.0)" fill="#fff" font-size="9.35">20238.5</text><text transform="translate(1620,648) scale(1,1.0)" fill="#000" font-size="9.35">402.47</text><text transform="translate(1620,687) scale(1,1.0)" fill="#000" font-size="9.35">0.00</text><text transform="translate(1620,715) scale(1,1.0)" fill="#000" font-size="9.35">-305.65</text><text transform="translate(1620,731) scale(1,1.0)" fill="#000" font-size="9.35">100</text><text transform="translate(1620,743) scale(1,1.0)" fill="#000" font-size="9.35">80</text><text transform="translate(1620,768) scale(1,1.0)" fill="#000" font-size="9.35">50</text><text transform="translate(1620,799) scale(1,1.0)" fill="#000" font-size="9.35">15</text><text transform="translate(1620,805) scale(1,1.0)" fill="#000" font-size="9.35">0</text><text transform="translate(20,36) scale(1,1.0)" fill="#000" font-size="9.35">HK50-,H4&#160;&#160;20492.0 20501.5 20202.0 20238.5</text><text transform="translate(8.6,650) scale(1,1.0)" fill="#000" font-size="9.35">MACD(12,26,9) -273.47 -152.52</text><text transform="translate(8.6,733) scale(1,1.0)" fill="#000" font-size="9.35">RSI(15) 30.0321</text><text transform="translate(4.2,821) scale(1,1.0)" fill="#000" font-size="9.35">18 May 2022</text><text transform="translate(68.2,821) scale(1,1.0)" fill="#000" font-size="9.35">20 May 01:15</text><text transform="translate(132.2,821) scale(1,1.0)" fill="#000" font-size="9.35">24 May 01:15</text><text transform="translate(196.2,821) scale(1,1.0)" fill="#000" font-size="9.35">26 May 01:15</text><text transform="translate(260.2,821) scale(1,1.0)" fill="#000" font-size="9.35">30 May 01:15</text><text transform="translate(324.2,821) scale(1,1.0)" fill="#000" font-size="9.35">1 Jun 01:15</text><text transform="translate(388.2,821) scale(1,1.0)" fill="#000" font-size="9.35">6 Jun 01:15</text><text transform="translate(452.2,821) scale(1,1.0)" fill="#000" font-size="9.35">8 Jun 01:15</text><text transform="translate(516.2,821) scale(1,1.0)" fill="#000" font-size="9.35">10 Jun 01:15</text><text transform="translate(580.2,821) scale(1,1.0)" fill="#000" font-size="9.35">14 Jun 01:15</text><text transform="translate(644.2,821) scale(1,1.0)" fill="#000" font-size="9.35">16 Jun 01:15</text><text transform="translate(708.2,821) scale(1,1.0)" fill="#000" font-size="9.35">20 Jun 01:15</text><text transform="translate(772.2,821) scale(1,1.0)" fill="#000" font-size="9.35">22 Jun 01:15</text><text transform="translate(836.2,821) scale(1,1.0)" fill="#000" font-size="9.35">24 Jun 01:15</text><text transform="translate(900.2,821) scale(1,1.0)" fill="#000" font-size="9.35">28 Jun 01:15</text><text transform="translate(964.2,821) scale(1,1.0)" fill="#000" font-size="9.35">30 Jun 01:15</text><text transform="translate(1028.2,821) scale(1,1.0)" fill="#000" font-size="9.35">5 Jul 01:15</text><text transform="translate(1092.2,821) scale(1,1.0)" fill="#000" font-size="9.35">7 Jul 01:15</text><text transform="translate(1156.2,821) scale(1,1.0)" fill="#000" font-size="9.35">11 Jul 01:15</text><text transform="translate(1220.2,821) scale(1,1.0)" fill="#000" font-size="9.35">13 Jul 01:15</text><text transform="translate(1284.2,821) scale(1,1.0)" fill="#000" font-size="9.35">15 Jul 01:15</text>
</g>
</svg>
</body></html>
